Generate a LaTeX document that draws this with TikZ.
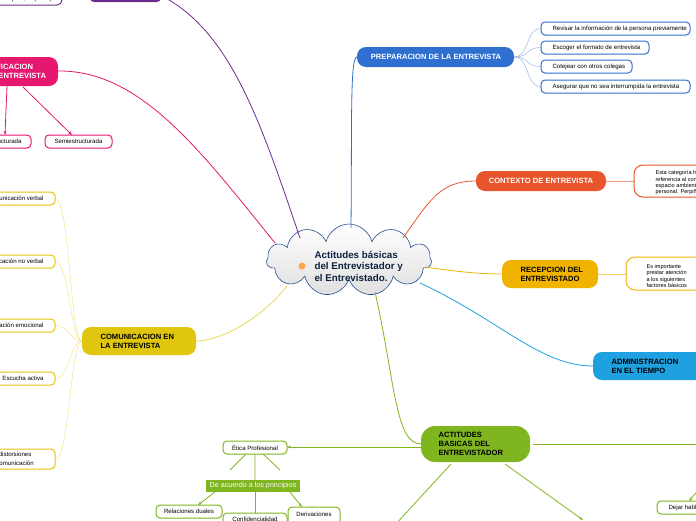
\documentclass[tikz,border=0pt]{standalone}
\usepackage{fontspec}
\setmainfont{Liberation Sans}
\usetikzlibrary{shapes.symbols,arrows.meta}
\definecolor{cpur}{HTML}{6A2C8C}
\definecolor{cpink}{HTML}{E5176F}
\definecolor{cblue}{HTML}{2E6FD0}
\definecolor{corg}{HTML}{E8542C}
\definecolor{cyel}{HTML}{F0B400}
\definecolor{ccyan}{HTML}{1FA0E0}
\definecolor{cgrn}{HTML}{7FB51F}
\definecolor{ccom}{HTML}{E0C60F}
\tikzset{
 main/.style={rounded corners=9pt,inner sep=0pt},
 sub/.style={draw,line width=1pt,rounded corners=4pt,fill=white},
 mt/.style={font=\bfseries\fontsize{7.6}{9}\selectfont,align=left},
 st/.style={font=\fontsize{6.1}{7}\selectfont,align=left},
}
\begin{document}
\begin{tikzpicture}[x=1pt,y=-1pt]
\useasboundingbox (0,0) rectangle (696,520);
\clip (0,0) rectangle (696,520);
% cloud
\node[cloud,cloud puffs=11,aspect=2.5,draw=cblue!70!black,line width=0.6pt,top color=white,bottom color=gray!25,minimum width=165pt,minimum height=72pt] (c) at (349,260) {};
% connectors
\draw[cpur,line width=0.8pt] (300,238) .. controls (260,120) and (230,30) .. (160,-5);
\draw[cpink,line width=0.8pt] (275,243) .. controls (200,150) and (140,70) .. (58,71);
\draw[cblue,line width=0.8pt] (351,228) .. controls (352,120) and (350,57) .. (357,57);
\draw[corg,line width=0.8pt] (403,238) .. controls (430,200) and (440,181) .. (476,181);
\draw[cyel,line width=0.8pt] (425,267) .. controls (460,272) and (480,274) .. (502,274);
\draw[ccyan,line width=0.8pt] (420,283) .. controls (500,320) and (540,366) .. (593,366);
\draw[cgrn,line width=0.8pt] (375,292) .. controls (395,380) and (395,444) .. (421,444);
\draw[ccom!70,line width=0.8pt] (287,286) .. controls (260,320) and (220,341) .. (196,341);
% top-left purple
\path[draw=cpur,line width=1pt,fill=white,rounded corners=5pt] (-20,-10) rectangle (62,5);
\node[st,anchor=east] at (57,-1) {Tapina, E. (2015).};
\path[fill=cpur,rounded corners=4pt] (90,-10) rectangle (161,2);
% pink
\path[main,fill=cpink] (-30,57) rectangle (58,86);
\node[mt,text=white,anchor=west] (pk) at (-30,71) {CLASIFICACION\\DE LA ENTREVISTA};
\path[sub,draw=cpink] (-25,135) rectangle (31,148);
\node[st,anchor=east] at (25,141.5) {Estructurada};
\path[sub,draw=cpink] (45,135) rectangle (112,148);
\node[st] (se) at (78.5,141.5) {Semiestructurada};
\draw[cpink,line width=0.8pt,-{Stealth[length=4pt]}] (7,86) -- (5,135);
\draw[cpink,line width=0.8pt,-{Stealth[length=4pt]}] (23,87) -- (72,135);
% blue
\path[main,fill=cblue] (357,47) rectangle (514,67);
\node[mt,text=white] (pr) at (436,57) {PREPARACION DE LA ENTREVISTA};
\foreach \t/\x/\y in {Revisar la información de la persona previamente/690/22,Escoger el formato de entrevista/649/41,Cotejear con otros colegas/632/60,Asegurar que no sea interrumpida la entrevista/690/80}{
 \draw[cblue!50,line width=0.5pt] (514,57) .. controls (530,57) and (525,\y+6.5) .. (541,\y+6.5);
 \path[sub,draw=cblue] (541,\y) rectangle (\x,\y+13);
 \node[st,anchor=west] at (549,\y+6.5) {\t};
}
% orange
\draw[corg!60,line width=0.8pt] (606,181) -- (634,181);
\path[main,fill=corg] (476,171) rectangle (606,191);
\node[mt,text=white] (ct) at (541,181) {CONTEXTO DE ENTREVISTA};
\path[sub,draw=corg,rounded corners=9pt] (634,165) rectangle (710,197);
\node[font=\fontsize{5.6}{6.4}\selectfont,align=left,anchor=north west] at (652,167) {Esta categoría hace\\referencia al contexto\\espacio ambiental\\personal. Perpiñán};
% yellow
\draw[cyel!60,line width=0.8pt] (598,274) -- (626,274);
\path[main,fill=cyel] (502,260) rectangle (598,288);
\node[mt,anchor=west] (re) at (517,274) {RECEPCION DEL\\ENTREVISTADO};
\path[sub,draw=cyel,rounded corners=9pt] (626,257) rectangle (710,290);
\node[font=\fontsize{5.6}{6.4}\selectfont,align=left,anchor=north west] at (643,261) {Es importante\\prestar atención\\a los siguientes\\factores básicos};
% cyan
\path[main,fill=ccyan] (593,352) rectangle (705,380);
\node[mt,anchor=west] (ad) at (608,366) {ADMINISTRACION\\EN EL TIEMPO};
% green
\path[main,fill=cgrn,rounded corners=14pt] (421,426) rectangle (530,462);
\node[mt,anchor=west] (ac) at (435,444) {ACTITUDES\\BASICAS DEL\\ENTREVISTADOR};
\draw[cgrn,line width=0.8pt,-{Stealth[length=4pt]}] (533,444) -- (700,444);
\draw[cgrn,line width=0.8pt] (451,464) -- (395,525);
\draw[cgrn,line width=0.8pt,-{Stealth[length=4pt]}] (505,464) -- (583,520);
\draw[cgrn,line width=0.8pt,-{Stealth[length=4pt]}] (700,488) -- (689,501);
\path[sub,draw=cgrn] (657,501) rectangle (710,514);
\node[st,anchor=west] at (665,507.5) {Dejar hablar};
% etica
\draw[cgrn,line width=0.8pt,-{Stealth[length=4pt]}] (421,447) -- (287,447);
\path[sub,draw=cgrn] (223,441) rectangle (287,454);
\node[st] (et) at (255,447.5) {Ética Profesional};
\draw[cgrn,line width=0.8pt] (246,454) -- (230,470) (255,454) -- (255,480) (263,454) -- (280,470);
\path[fill=cgrn] (206,480) rectangle (300,492);
\node[font=\fontsize{7.2}{8}\selectfont,text=white] (da) at (253,486) {De acuerdo a los principios};
\draw[cgrn,line width=0.8pt,-{Stealth[length=4pt]}] (215,492) -- (198,505);
\draw[cgrn,line width=0.8pt,-{Stealth[length=4pt]}] (255,492) -- (255,518);
\draw[cgrn,line width=0.8pt,-{Stealth[length=4pt]}] (290,492) -- (302,507);
\path[sub,draw=cgrn] (156,505) rectangle (222,518);
\node[st] at (189,511.5) {Relaciones duales};
\path[sub,draw=cgrn] (223,513) rectangle (287,530);
\node[st] at (255,519.5) {Confidencialidad};
\path[sub,draw=cgrn] (288,507) rectangle (340,525);
\node[st] at (314,514) {Derivaciones};
% comunicacion
\foreach \t/\y/\h in {Comunicación verbal/192/13,Comunicación no verbal/255/13,Comunicación emocional/319/13,Escucha activa/372/13}{
 \draw[ccom!45,line width=0.5pt] (82,341) .. controls (70,341) and (70,\y+6.5) .. (55,\y+6.5);
 \path[sub,draw=ccom] (-40,\y) rectangle (55,\y+\h);
 \node[st,anchor=east] at (47,\y+6.5) {\t};
}
\draw[ccom!45,line width=0.5pt] (82,341) .. controls (70,341) and (70,459) .. (55,459);
\path[sub,draw=ccom] (-40,449) rectangle (55,469);
\node[st,anchor=west] at (-22,454.5) {Evitar distorsiones};
\node[st,anchor=west] at (-22,463) {en la comunicación};
\path[main,fill=ccom] (82,327) rectangle (196,355);
\node[mt,anchor=west] (cm) at (97,341) {COMUNICACION EN\\LA ENTREVISTA};
% cloud text
\node[font=\bfseries\fontsize{9.8}{11.5}\selectfont,text=cblue!30!black,align=left,anchor=west] at (311,266) {Actitudes básicas\\del Entrevistador y\\el Entrevistado.};
\fill[orange!70] (302,266) circle (3.5pt);
\end{tikzpicture}
\end{document}
